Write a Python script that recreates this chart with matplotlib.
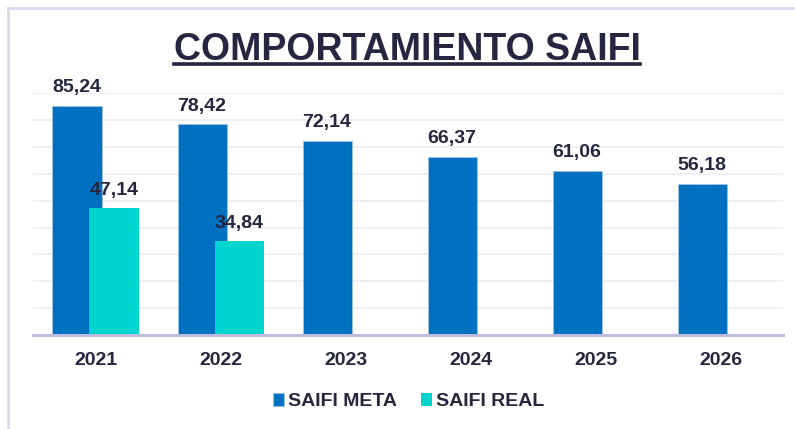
import matplotlib
matplotlib.use("Agg")
from matplotlib import pyplot as plt
from matplotlib import font_manager
from matplotlib.lines import Line2D
import numpy as np

years = ["2021", "2022", "2023", "2024", "2025", "2026"]
meta = [85.24, 78.42, 72.14, 66.37, 61.06, 56.18]
real = [47.14, 34.84]
labels_meta = ["85,24", "78,42", "72,14", "66,37", "61,06", "56,18"]
labels_real = ["47,14", "34,84"]

dark = "#262640"
c_meta = "#0070C0"
c_real = "#00D4CE"

names = {f.name for f in font_manager.fontManager.ttflist}
title_font = "Liberation Sans Narrow" if "Liberation Sans Narrow" in names else "Liberation Sans"
plt.rcParams["font.family"] = ["Liberation Sans", "DejaVu Sans"]

fig = plt.figure(figsize=(7.95, 4.29), dpi=100)
ax = fig.add_axes([0.0415, 0.219, 0.9435, 0.5635])

x = np.arange(len(years))
w = 0.392
off = 0.148
b1 = ax.bar(x - off, meta, w, color=c_meta, edgecolor="#9DC3E6", linewidth=0.6, label="SAIFI META", zorder=2)
b2 = ax.bar(x[:len(real)] + off, real, w, color=c_real, label="SAIFI REAL", zorder=3)

for xi, v, t in zip(x - off, meta, labels_meta):
    ax.annotate(t, (xi, v), xytext=(0, 10), textcoords="offset points",
                ha="center", va="baseline", fontsize=14, fontweight="bold", color=dark)
for xi, v, t in zip(x[:len(real)] + off, real, labels_real):
    ax.annotate(t, (xi, v), xytext=(0, 10), textcoords="offset points",
                ha="center", va="baseline", fontsize=14, fontweight="bold", color=dark)

ax.set_xlim(-0.5, len(years) - 0.5)
ax.set_ylim(0, 90)
ax.set_yticks(np.arange(10, 91, 10))
ax.yaxis.grid(True, color="#EEEEF5", linewidth=1.3, zorder=0)
ax.set_axisbelow(True)
ax.tick_params(axis="y", left=False, labelleft=False)
ax.set_xticks(x)
ax.set_xticklabels(years, fontsize=14, fontweight="bold", color=dark)
ax.tick_params(axis="x", length=0, pad=12)
for s in ["top", "right", "left"]:
    ax.spines[s].set_visible(False)
ax.spines["bottom"].set_color("#C0BCDD")
ax.spines["bottom"].set_linewidth(2.2)
ax.spines["bottom"].set_zorder(4)

tsize = 30 if title_font.endswith("Narrow") else 27
t = fig.text(0.512, 0.860, "COMPORTAMIENTO SAIFI", ha="center", va="baseline",
             fontsize=tsize, fontweight="bold", color=dark, family=[title_font, "DejaVu Sans"])
fig.canvas.draw()
bb = t.get_window_extent()
fig.add_artist(Line2D([bb.x0 / 795, bb.x1 / 795], [0.851, 0.851], color=dark, linewidth=2.6))

leg = fig.legend(handles=[b1, b2], loc="center", bbox_to_anchor=(0.514, 0.063), ncol=2,
                 frameon=False, handlelength=0.6, handleheight=0.6, handletextpad=0.2,
                 columnspacing=1.2, prop={"size": 14, "weight": "bold"})
for txt in leg.get_texts():
    txt.set_color(dark)

# frame lines on top and left
fig.add_artist(Line2D([8 / 795, 8 / 795], [0, 1 - 8 / 429], color="#DAD8EC", linewidth=2))
fig.add_artist(Line2D([8 / 795, 1], [1 - 8 / 429, 1 - 8 / 429], color="#DAD8EC", linewidth=2))

fig.savefig("out.png", dpi=100)
